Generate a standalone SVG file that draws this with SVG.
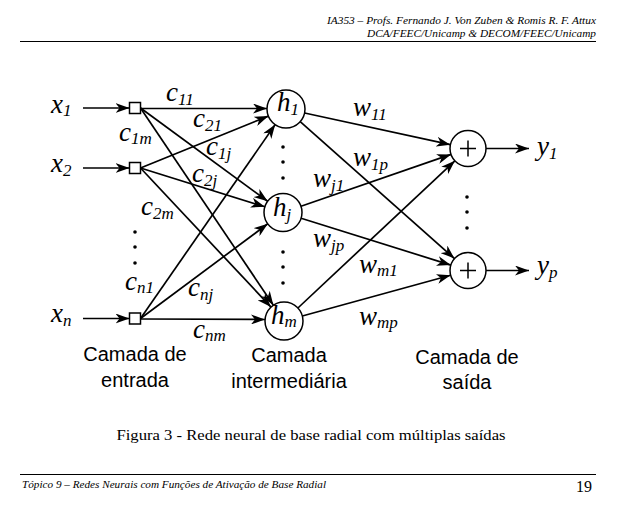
<svg xmlns="http://www.w3.org/2000/svg" width="622" height="508" viewBox="0 0 622 508">
<defs>
<marker id="ah" markerUnits="userSpaceOnUse" viewBox="0 0 14 10" refX="14" refY="5" markerWidth="14" markerHeight="10" orient="auto">
<path d="M0,0 L14,5 L0,10 L4,5 z" fill="#000"/>
</marker>
<style>
.m{font-family:'Liberation Serif','Times New Roman',serif;font-style:italic;font-size:27px;fill:#000}
.s{font-size:17px}
.lay{font-family:'Liberation Sans',Arial,sans-serif;font-size:20px;fill:#000;text-anchor:middle}
.hdr{font-family:'Liberation Serif','Times New Roman',serif;font-style:italic;font-size:11px;fill:#000}
.cap{font-family:'Liberation Serif','Times New Roman',serif;fill:#000}
.ln{stroke:#000;stroke-width:1.7;fill:none;marker-end:url(#ah)}
.nd{fill:#fff;stroke:#000;stroke-width:1.5}
.dot{fill:#000}
</style>
</defs>
<rect width="622" height="508" fill="#fff"/>
<g id="header">
<text class="hdr" x="596" y="24" text-anchor="end" textLength="269" lengthAdjust="spacingAndGlyphs">IA353 – Profs. Fernando J. Von Zuben &amp; Romis R. F. Attux</text>
<text class="hdr" x="596" y="37" text-anchor="end" textLength="229" lengthAdjust="spacingAndGlyphs">DCA/FEEC/Unicamp &amp; DECOM/FEEC/Unicamp</text>
<line x1="20" y1="41.5" x2="596" y2="41.5" stroke="#000" stroke-width="1.2"/>
</g>
<g id="connectors">
<line class="ln" x1="83" y1="108" x2="129.5" y2="108"/>
<line class="ln" x1="83" y1="168" x2="129.5" y2="168"/>
<line class="ln" x1="83" y1="318.5" x2="129.5" y2="318.5"/>
<line class="ln" x1="140.5" y1="108.5" x2="267" y2="108.5"/>
<line class="ln" x1="140.5" y1="108" x2="267.7" y2="201.3"/>
<line class="ln" x1="140.5" y1="108" x2="273.4" y2="305.2"/>
<line class="ln" x1="140.5" y1="168" x2="268.4" y2="116.1"/>
<line class="ln" x1="140.5" y1="168" x2="264.9" y2="206.8"/>
<line class="ln" x1="140.5" y1="168" x2="271" y2="307.1"/>
<line class="ln" x1="140.5" y1="318.5" x2="275.2" y2="124.6"/>
<line class="ln" x1="140.5" y1="318.5" x2="267.8" y2="223.8"/>
<line class="ln" x1="140.5" y1="319" x2="265" y2="319.5"/>
<line class="ln" x1="304.6" y1="113" x2="450.4" y2="144.7"/>
<line class="ln" x1="300.2" y1="121.6" x2="454.5" y2="258.6"/>
<line class="ln" x1="301" y1="206.3" x2="451" y2="154.4"/>
<line class="ln" x1="301.1" y1="218.2" x2="450.8" y2="265.1"/>
<line class="ln" x1="297.9" y1="308" x2="454.9" y2="160.8"/>
<line class="ln" x1="302.3" y1="316" x2="450.6" y2="275.3"/>
<line class="ln" x1="486" y1="148.5" x2="529" y2="148.5"/>
<line class="ln" x1="486" y1="270.5" x2="529" y2="270.5"/>
</g>
<g id="in1"><rect class="nd" x="129.5" y="102.5" width="11" height="11"/><text class="m" x="51" y="112.5">x<tspan class="s" dy="3.5">1</tspan></text></g>
<g id="in2"><rect class="nd" x="129.5" y="162.5" width="11" height="11"/><text class="m" x="51" y="172">x<tspan class="s" dy="3.5">2</tspan></text></g>
<g id="inn"><rect class="nd" x="129.5" y="313" width="11" height="11"/><text class="m" x="51" y="322">x<tspan class="s" dy="3.5">n</tspan></text></g>
<g id="h1"><circle class="nd" cx="286" cy="109" r="19"/><text class="m" x="277" y="111">h<tspan class="s" dy="4">1</tspan></text></g>
<g id="hj"><circle class="nd" cx="283" cy="212.5" r="19"/><text class="m" x="273" y="216">h<tspan class="s" dy="4">j</tspan></text></g>
<g id="hm"><circle class="nd" cx="284" cy="321" r="19"/><text class="m" x="271" y="324">h<tspan class="s" dy="3">m</tspan></text></g>
<g id="o1"><circle class="nd" cx="468" cy="148.5" r="18"/><path d="M468,140.5 V156.5 M460,148.5 H476" stroke="#000" stroke-width="1.5"/></g>
<g id="op"><circle class="nd" cx="468" cy="270.5" r="18"/><path d="M468,262.5 V278.5 M460,270.5 H476" stroke="#000" stroke-width="1.5"/></g>
<g id="labels">
<text class="m" x="537" y="155">y<tspan class="s" dy="3.5">1</tspan></text>
<text class="m" x="537" y="274">y<tspan class="s" dy="3.5">p</tspan></text>
<text class="m" x="166" y="100.5">c<tspan class="s" dy="4.5">11</tspan></text>
<text class="m" x="193" y="127">c<tspan class="s" dy="4">21</tspan></text>
<text class="m" x="119" y="141">c<tspan class="s" dy="3">1m</tspan></text>
<text class="m" x="206" y="155">c<tspan class="s" dy="4">1j</tspan></text>
<text class="m" x="192" y="182">c<tspan class="s" dy="4">2j</tspan></text>
<text class="m" x="141" y="215">c<tspan class="s" dy="3.5">2m</tspan></text>
<text class="m" x="125" y="290">c<tspan class="s" dy="3">n1</tspan></text>
<text class="m" x="188" y="296">c<tspan class="s" dy="4">nj</tspan></text>
<text class="m" x="193" y="338">c<tspan class="s" dy="3">nm</tspan></text>
<text class="m" x="353" y="116">w<tspan class="s" dy="3.5">11</tspan></text>
<text class="m" x="353" y="166">w<tspan class="s" dy="3.5">1p</tspan></text>
<text class="m" x="313" y="187">w<tspan class="s" dy="3.5">j1</tspan></text>
<text class="m" x="313" y="247">w<tspan class="s" dy="3.5">jp</tspan></text>
<text class="m" x="359" y="273">w<tspan class="s" dy="3">m1</tspan></text>
<text class="m" x="359" y="325">w<tspan class="s" dy="3">mp</tspan></text>
</g>
<g id="dots">
<circle class="dot" cx="135" cy="232" r="1.8"/><circle class="dot" cx="135" cy="247" r="1.8"/><circle class="dot" cx="135" cy="263" r="1.8"/>
<circle class="dot" cx="283" cy="147" r="1.8"/><circle class="dot" cx="283" cy="162" r="1.8"/><circle class="dot" cx="283" cy="178" r="1.8"/>
<circle class="dot" cx="283" cy="252" r="1.8"/><circle class="dot" cx="283" cy="267" r="1.8"/><circle class="dot" cx="283" cy="283" r="1.8"/>
<circle class="dot" cx="467" cy="197" r="1.8"/><circle class="dot" cx="467" cy="212" r="1.8"/><circle class="dot" cx="467" cy="228" r="1.8"/>
</g>
<g id="layers">
<text class="lay" x="135" y="361">Camada de</text>
<text class="lay" x="135" y="387">entrada</text>
<text class="lay" x="289" y="362">Camada</text>
<text class="lay" x="289" y="388">intermediária</text>
<text class="lay" x="467" y="364">Camada de</text>
<text class="lay" x="467" y="389">saída</text>
</g>
<g id="footer">
<text class="cap" x="311" y="440" text-anchor="middle" font-size="15" textLength="389" lengthAdjust="spacingAndGlyphs">Figura 3 - Rede neural de base radial com múltiplas saídas</text>
<line x1="20" y1="474.5" x2="596" y2="474.5" stroke="#000" stroke-width="1.2"/>
<text class="hdr" x="22" y="488" font-size="9.5" textLength="304" lengthAdjust="spacingAndGlyphs">Tópico 9 – Redes Neurais com Funções de Ativação de Base Radial</text>
<text class="cap" x="592" y="492" text-anchor="end" font-size="16">19</text>
</g>
</svg>
